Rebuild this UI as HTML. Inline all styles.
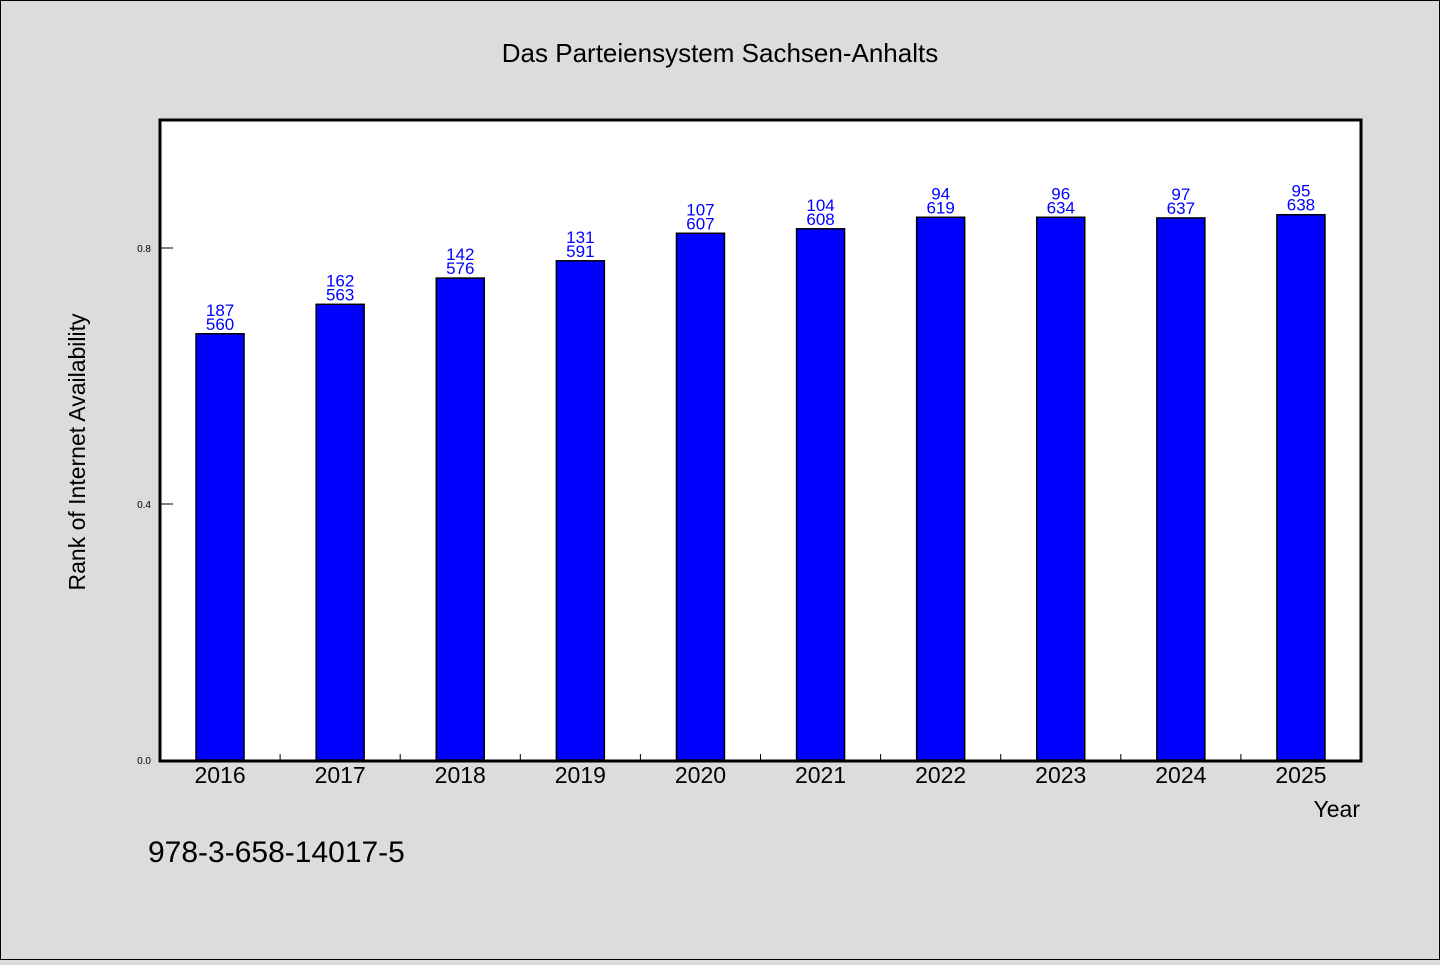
<!DOCTYPE html>
<html><head><meta charset="utf-8"><style>
body{margin:0;background:#dcdcdc;}
svg text{font-family:"WenQuanYi Zen Hei","Liberation Sans",sans-serif;}
</style></head><body>
<svg id="c" width="1440" height="960" xmlns="http://www.w3.org/2000/svg">
<rect x="0.5" y="0.5" width="1439" height="959" fill="#dcdcdc" stroke="#000"/>
<text x="720" y="62" font-size="26" text-anchor="middle">Das Parteiensystem Sachsen-Anhalts</text>
<rect x="160" y="120" width="1201" height="641" fill="#fff"/>
<g id="bars"></g>
<rect x="160" y="120" width="1201" height="641" fill="none" stroke="#000" stroke-width="3"/>
<g id="axes"></g>
<text transform="translate(85,452) rotate(-90)" font-size="23" text-anchor="middle">Rank of Internet Availability</text>
<text x="1360" y="817" font-size="23" text-anchor="end">Year</text>
<text x="148" y="862" font-size="30">978-3-658-14017-5</text>
</svg>
<script>
const categories=["2016","2017","2018","2019","2020","2021","2022","2023","2024","2025"];
const values=[0.666,0.712,0.753,0.780,0.823,0.830,0.848,0.848,0.847,0.852];
const labelTop=["187","162","142","131","107","104","94","96","97","95"];
const labelBottom=["560","563","576","591","607","608","619","634","637","638"];
const yTicks=[0.0,0.4,0.8];
const NS="http://www.w3.org/2000/svg";
const x0=160,plotW=1201,y0=760,yTop=120,yMax=1.0;
const band=plotW/categories.length;
function xc(i){return x0+band*(i+0.5);}
function ys(v){return y0-(v/yMax)*(y0-yTop);}
function mk(t,a,p){const e=document.createElementNS(NS,t);for(const k in a)e.setAttribute(k,a[k]);p.appendChild(e);return e;}
const bars=document.getElementById('bars'),axes=document.getElementById('axes');
categories.forEach((c,i)=>{
  const y=ys(values[i]);
  const r=mk('rect',{x:xc(i)-24,y:y,width:48,height:y0-y,fill:'#0000ff',stroke:'#000','stroke-width':1.5},bars);
  
  
  const t1=mk('text',{x:xc(i),y:y-18,'font-size':17,'text-anchor':'middle',fill:'#0000ff'},bars);t1.textContent=labelTop[i];
  
  
  const t2=mk('text',{x:xc(i),y:y-4,'font-size':17,'text-anchor':'middle',fill:'#0000ff'},bars);t2.textContent=labelBottom[i];
  
  
  const xl=mk('text',{x:xc(i),y:783,'font-size':23,'text-anchor':'middle'},axes);xl.textContent=c;
  
  
  if(i>0){const tk=mk('line',{x1:x0+band*i,x2:x0+band*i,y1:y0,y2:y0-6,stroke:'#000'},axes);
  
  }
});
yTicks.forEach(v=>{
  const y=ys(v);
  const l=mk('line',{x1:x0,x2:x0+13,y1:y,y2:y,stroke:'#000'},axes);
  
  
  const t=mk('text',{x:151,y:y+4,'font-size':10,'text-anchor':'end'},axes);t.textContent=v.toFixed(1);
  
  
});
</script>
</body></html>
